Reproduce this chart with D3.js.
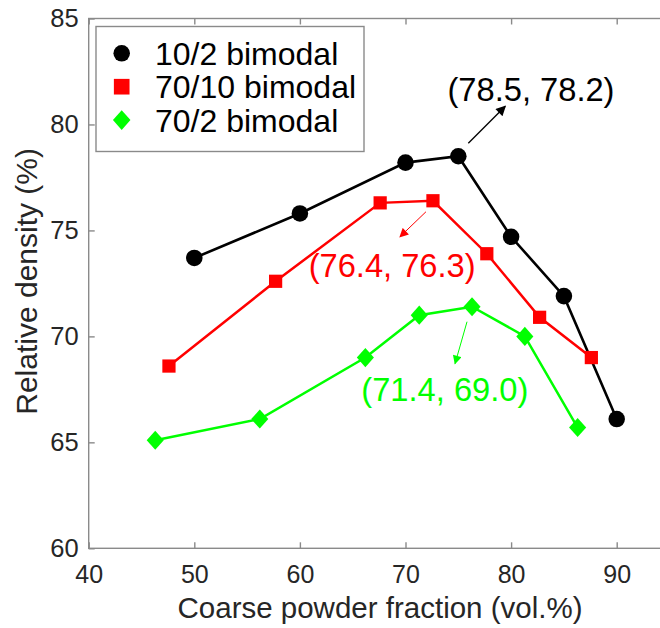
<!DOCTYPE html>
<html>
<head>
<meta charset="utf-8">
<script src="https://cdn.jsdelivr.net/npm/d3@7"></script>
<style>
  html, body { margin: 0; padding: 0; background: #fff; }
  svg { display: block; font-family: "Liberation Sans", Arial, sans-serif; }
</style>
</head>
<body>
<svg id="chart" width="660" height="628"></svg>
<script>
// Coarse powder fraction (vol.%) and relative density (%) per powder blend
const seriesNames = ["10/2 bimodal", "70/10 bimodal", "70/2 bimodal"];
const xBlack = [50, 60, 70, 75, 80, 85, 90];
const yBlack = [73.7, 75.8, 78.2, 78.5, 74.7, 71.9, 66.1];
const xRed   = [47.6, 57.7, 67.6, 72.6, 77.7, 82.7, 87.6];
const yRed   = [68.6, 72.6, 76.3, 76.4, 73.9, 70.9, 69.0];
const xGreen = [46.3, 56.2, 66.2, 71.3, 76.3, 81.3, 86.3];
const yGreen = [65.1, 66.1, 69.0, 71.0, 71.4, 70.0, 65.7];
// second number shown in each peak callout
const peakPartner = [78.2, 76.3, 69.0];
const xTicks = [40, 50, 60, 70, 80, 90];
const yTicks = [60, 65, 70, 75, 80, 85];

const svg = d3.select("#chart");
const plotLeft = 88.7, plotTop = 18.5, plotBottom = 548.3;
const x = d3.scaleLinear().domain([40, 95]).range([plotLeft, plotLeft + 55 * 10.56]);
const y = d3.scaleLinear().domain([60, 85]).range([plotBottom, plotTop]);

const axisColor = "#8a8a8a";
const textColor = "#262626";
const font = "Liberation Sans, Arial, sans-serif";

// plot frame (right edge runs past the page)
svg.append("rect")
  .attr("x", x(40)).attr("y", y(85))
  .attr("width", x(95) - x(40)).attr("height", y(60) - y(85))
  .attr("fill", "none").attr("stroke", axisColor).attr("stroke-width", 1.4);

// bottom axis, ticks pointing inward
const gx = svg.append("g").attr("transform", `translate(0,${plotBottom})`)
  .call(d3.axisBottom(x).tickValues(xTicks).tickSize(-6).tickFormat(d3.format("d")));
gx.select(".domain").remove();
gx.selectAll("line").attr("stroke", axisColor).attr("stroke-width", 1.4);
gx.selectAll("text").attr("fill", textColor).attr("font-size", 25)
  .attr("font-family", font).attr("dy", null).attr("y", 35);

// top ticks
const gt = svg.append("g").attr("transform", `translate(0,${plotTop})`)
  .call(d3.axisTop(x).tickValues(xTicks).tickSize(-6).tickFormat(""));
gt.select(".domain").remove();
gt.selectAll("line").attr("stroke", axisColor).attr("stroke-width", 1.4);

// left axis
const gy = svg.append("g").attr("transform", `translate(${plotLeft},0)`)
  .call(d3.axisLeft(y).tickValues(yTicks).tickSize(-6).tickPadding(10).tickFormat(d3.format("d")));
gy.select(".domain").remove();
gy.selectAll("line").attr("stroke", axisColor).attr("stroke-width", 1.4);
gy.selectAll("text").attr("fill", textColor).attr("font-size", 25.5)
  .attr("font-family", font);

// axis titles
svg.append("text")
  .attr("x", 380).attr("y", 618)
  .attr("text-anchor", "middle").attr("font-size", 29.5).attr("fill", textColor)
  .text("Coarse powder fraction (vol.%)");
svg.append("text")
  .attr("transform", `translate(37,${(plotTop + plotBottom) / 2 - 2}) rotate(-90)`)
  .attr("text-anchor", "middle").attr("font-size", 30).attr("fill", textColor)
  .text("Relative density (%)");

// marker shapes: circle, square, and an evenly proportioned diamond
const diamond = {
  draw(ctx, size) {
    const w = Math.sqrt(size) * 0.62, h = w * 1.12;
    ctx.moveTo(0, -h); ctx.lineTo(w, 0); ctx.lineTo(0, h); ctx.lineTo(-w, 0); ctx.closePath();
  }
};

const series = [
  { name: seriesNames[0], xs: xBlack, ys: yBlack, color: "#000000", shape: d3.symbolCircle, size: 215, lw: 2.6 },
  { name: seriesNames[1], xs: xRed,   ys: yRed,   color: "#ff0000", shape: d3.symbolSquare, size: 175, lw: 2.5 },
  { name: seriesNames[2], xs: xGreen, ys: yGreen, color: "#00ff00", shape: diamond,         size: 190, lw: 2.5 }
];

const line = d3.line().x(d => x(d[0])).y(d => y(d[1]));

series.forEach(s => {
  const pts = s.xs.map((v, i) => [v, s.ys[i]]);
  svg.append("path").datum(pts)
    .attr("d", line).attr("fill", "none")
    .attr("stroke", s.color).attr("stroke-width", s.lw);
  svg.append("g").selectAll("path").data(pts).join("path")
    .attr("transform", d => `translate(${x(d[0])},${y(d[1])})`)
    .attr("d", d3.symbol().type(s.shape).size(s.size))
    .attr("fill", s.color);
});

// arrowheads
const defs = svg.append("defs");
const headSize = [[13, 10], [10, 9], [10, 9]];
series.forEach((s, i) => {
  defs.append("marker")
    .attr("id", "arrow" + i)
    .attr("viewBox", "0 0 10 10").attr("refX", 9).attr("refY", 5)
    .attr("markerUnits", "userSpaceOnUse")
    .attr("markerWidth", headSize[i][0]).attr("markerHeight", headSize[i][1])
    .attr("orient", "auto")
    .append("path").attr("d", "M0,0 L10,5 L0,10 Z").attr("fill", s.color);
});

// peak callouts: arrow offsets and label placement relative to each peak
const callouts = [
  { from: [10, -13], to: [47, -50], label: [72.7, -55.3], width: 1.3 },
  { from: [-7, 11],  to: [-33, 36], label: [-40.8, 76],   width: 1.0 },
  { from: [-5, 15],  to: [-17, 57], label: [-27.2, 94],   width: 1.0 }
];
series.forEach((s, i) => {
  const k = d3.maxIndex(s.ys);
  const px = x(s.xs[k]), py = y(s.ys[k]);
  const c = callouts[i];
  svg.append("line")
    .attr("x1", px + c.from[0]).attr("y1", py + c.from[1])
    .attr("x2", px + c.to[0]).attr("y2", py + c.to[1])
    .attr("stroke", s.color).attr("stroke-width", c.width)
    .attr("marker-end", `url(#arrow${i})`);
  svg.append("text")
    .attr("x", px + c.label[0]).attr("y", py + c.label[1])
    .attr("text-anchor", "middle").attr("font-size", 32.5)
    .attr("font-family", "Liberation Sans Narrow, Arial Narrow, Liberation Sans, sans-serif")
    .attr("textLength", 167).attr("lengthAdjust", "spacingAndGlyphs")
    .attr("fill", i === 0 ? "#000000" : s.color)
    .text(`(${s.ys[k].toFixed(1)}, ${peakPartner[i].toFixed(1)})`);
});

// legend
const lg = svg.append("g");
lg.append("rect")
  .attr("x", 96).attr("y", 26.5).attr("width", 268).attr("height", 125)
  .attr("fill", "#fff").attr("stroke", axisColor).attr("stroke-width", 1.4);
const legendSize = [215, 245, 200];
series.forEach((s, i) => {
  const cy = 53.3 + i * 33.4;
  lg.append("path")
    .attr("transform", `translate(121.7,${cy})`)
    .attr("d", d3.symbol().type(s.shape).size(legendSize[i]))
    .attr("fill", s.color);
  lg.append("text")
    .attr("x", 155).attr("y", cy + 11.5)
    .attr("font-size", 32).attr("fill", "#000")
    .text(s.name);
});
</script>
</body>
</html>
